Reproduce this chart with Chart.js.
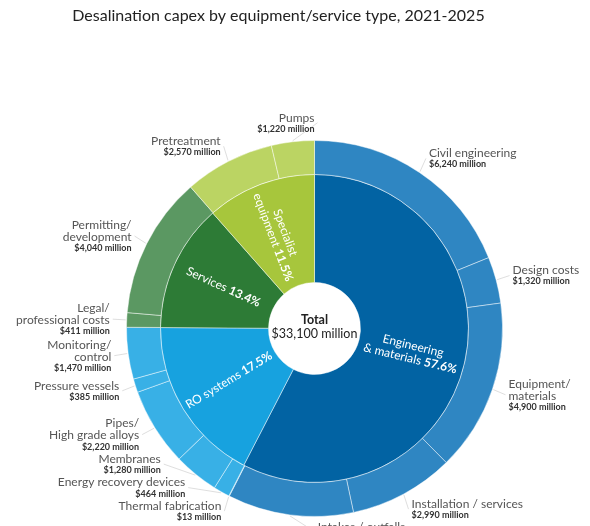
<!DOCTYPE html>
<html lang="en">
<head>
<meta charset="UTF-8">
<title>Desalination capex by equipment/service type, 2021-2025</title>
<script src="https://cdn.jsdelivr.net/npm/chart.js"></script>
<style>
  html, body { margin: 0; padding: 0; background: #fff; }
  #wrap { width: 590px; height: 526px; }
</style>
</head>
<body>
<div id="wrap"><canvas id="capexChart" width="590" height="526"></canvas></div>
<script>
// inner ring: spending groups, share of total capex (%)
const groupNames = [['Engineering', '& materials'], ['RO systems'], ['Services'], ['Specialist', 'equipment']];
const groupShares = [57.6, 17.5, 13.4, 11.5];

// outer ring: items in clockwise order, $ million
const itemNames = [
  ['Civil engineering'], ['Design costs'], ['Equipment/', 'materials'], ['Installation / services'], ['Intakes / outfalls'],
  ['Thermal fabrication'], ['Energy recovery devices'], ['Membranes'], ['Pipes/', 'High grade alloys'], ['Pressure vessels'], ['Monitoring/', 'control'],
  ['Legal/', 'professional costs'], ['Permitting/', 'development'],
  ['Pretreatment'], ['Pumps']
];
const itemValues = [6240, 1320, 4900, 2990, 3580, 13, 464, 1280, 2220, 385, 1470, 411, 4040, 2570, 1220];
const itemGroup = [0, 0, 0, 0, 0, 1, 1, 1, 1, 1, 1, 2, 2, 3, 3];

const groupColors = ['#0263a3', '#17a2df', '#2d7b36', '#a7c63c'];
const partColors = ['#2f86c2', '#38b0e6', '#5b9862', '#bbd463'];

const FONT = 'Lato, "Open Sans", sans-serif';
const fmt = v => '$' + v.toLocaleString('en-US') + ' million';
const totalCapex = Math.round(itemValues.reduce((a, b) => a + b, 0) / 100) * 100;

const labelsPlugin = {
  id: 'sunburstLabels',
  afterDraw(chart) {
    const ctx = chart.ctx;
    const outer = chart.getDatasetMeta(0).data;
    const inner = chart.getDatasetMeta(1).data;
    const cx = outer[0].x, cy = outer[0].y;
    const R = outer[0].outerRadius;

    ctx.save();
    // title
    ctx.fillStyle = '#222';
    ctx.font = '16px ' + FONT;
    ctx.textAlign = 'center';
    ctx.textBaseline = 'middle';
    ctx.fillText('Desalination capex by equipment/service type, 2021-2025', 278.5, 16);

    // centre total
    ctx.font = 'bold 12.5px ' + FONT;
    ctx.fillText('Total', cx, cy - 9);
    ctx.font = '12.5px ' + FONT;
    ctx.fillText(fmt(totalCapex), cx, cy + 5);

    // inner ring labels, set radially
    inner.forEach((arc, i) => {
      const a = (arc.startAngle + arc.endAngle) / 2;
      const rm = (arc.innerRadius + arc.outerRadius) / 2;
      const px = cx + rm * Math.cos(a), py = cy + rm * Math.sin(a);
      let rot = a;
      if (Math.cos(a) < 0) rot += Math.PI;
      const lines = groupNames[i];
      const lh = 13;
      ctx.save();
      ctx.translate(px, py);
      ctx.rotate(rot);
      ctx.fillStyle = '#fff';
      ctx.textBaseline = 'middle';
      ctx.textAlign = 'left';
      lines.forEach((t, k) => {
        const y = (k - (lines.length - 1) / 2) * lh;
        ctx.font = '12px ' + FONT;
        const last = k === lines.length - 1;
        const txt = last ? t + ' ' : t;
        const w1 = ctx.measureText(txt).width;
        let w2 = 0;
        const pct = groupShares[i].toFixed(1) + '%';
        if (last) {
          ctx.font = 'bold 12px ' + FONT;
          w2 = ctx.measureText(pct).width;
        }
        const x0 = -(w1 + w2) / 2;
        ctx.font = '12px ' + FONT;
        ctx.fillText(txt, x0, y);
        if (last) {
          ctx.font = 'bold 12px ' + FONT;
          ctx.fillText(pct, x0 + w1, y);
        }
      });
      ctx.restore();
    });

    // outer ring labels with leader lines
    const r = R + 17;
    const items = outer.map((arc, i) => {
      const a = (arc.startAngle + arc.endAngle) / 2;
      const n = itemNames[i].length;
      return {
        i, a, h: n * 12 + 10,
        x: cx + r * Math.cos(a), y: cy + r * Math.sin(a),
        side: Math.cos(a) >= 0 ? 1 : -1,
        under: Math.sin(a) > 0.97
      };
    });
    // push crowded labels upward, side by side
    [1, -1].forEach(side => {
      const list = items.filter(o => o.side === side && !o.under).sort((p, q) => q.y - p.y);
      let prev = null;
      list.forEach(o => {
        if (prev) o.y = Math.min(o.y, prev.y - prev.h / 2 - 1.5 - o.h / 2);
        const dy = o.y - cy;
        o.x = cx + side * Math.sqrt(Math.max(r * r - dy * dy, 0));
        prev = o;
      });
    });

    items.forEach(o => {
      const sx = cx + (R + 1) * Math.cos(o.a), sy = cy + (R + 1) * Math.sin(o.a);
      let tx = o.x, align = o.side > 0 ? 'left' : 'right';
      if (o.under) { tx = o.x + 30; align = 'left'; }
      ctx.strokeStyle = 'rgba(160,160,160,0.35)';
      ctx.lineWidth = 1;
      ctx.beginPath();
      ctx.moveTo(sx, sy);
      ctx.lineTo(align === 'left' ? tx - 3 : tx + 3, o.y);
      ctx.stroke();

      ctx.textAlign = align;
      ctx.textBaseline = 'middle';
      const top = o.y - o.h / 2;
      const names = itemNames[o.i];
      ctx.fillStyle = '#555';
      ctx.font = '12px ' + FONT;
      names.forEach((t, k) => ctx.fillText(t, tx, top + 6 + 12 * k));
      ctx.fillStyle = '#333';
      ctx.font = 'bold 9px ' + FONT;
      ctx.fillText(fmt(itemValues[o.i]), tx, top + names.length * 12 + 5);
    });
    ctx.restore();
  }
};

new Chart(document.getElementById('capexChart'), {
  type: 'doughnut',
  data: {
    labels: itemNames.map(n => n.join(' ')),
    datasets: [
      {
        data: itemValues,
        backgroundColor: itemGroup.map(g => partColors[g]),
        borderColor: 'rgba(255,255,255,0.45)',
        borderWidth: 1,
        weight: 34
      },
      {
        data: groupShares,
        backgroundColor: groupColors,
        borderColor: 'rgba(255,255,255,0.45)',
        borderWidth: 1,
        weight: 108
      }
    ]
  },
  options: {
    responsive: false,
    animation: false,
    cutout: 46,
    layout: { padding: { left: 126, right: 87, top: 140, bottom: 9 } },
    plugins: { legend: { display: false }, tooltip: { enabled: false } }
  },
  plugins: [labelsPlugin]
});
</script>
</body>
</html>
